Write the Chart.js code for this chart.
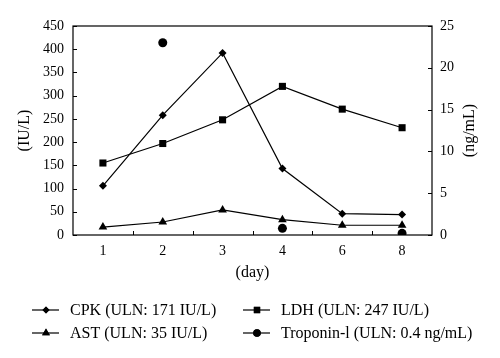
<!DOCTYPE html>
<html>
<head>
<meta charset="utf-8">
<script src="https://cdn.jsdelivr.net/npm/chart.js@4"></script>
<style>
  html, body { margin: 0; padding: 0; background: #fff; }
  #wrap { width: 500px; height: 358px; }
</style>
</head>
<body>
<div id="wrap"><canvas id="myChart"></canvas></div>
<script>
// data
var days = ['1', '2', '3', '4', '6', '8'];
var cpk = [106, 258, 392, 143, 46, 44];
var ldh = [155, 197, 248, 320, 271, 231];
var ast = [17, 28, 54, 33, 21, 21];
var troponin = [null, 23, null, 0.8, null, 0.2];
var leftTicks = [0, 50, 100, 150, 200, 250, 300, 350, 400, 450];
var rightTicks = [0, 5, 10, 15, 20, 25];

var seriesNames = ['CPK (ULN: 171 IU/L)', 'LDH (ULN: 247 IU/L)', 'AST (ULN: 35 IU/L)', 'Troponin-l (ULN: 0.4 ng/mL)'];
var seriesMarks = ['rectRot', 'rect', 'triangle', 'circle'];
var legendSize = [3.5, 4.5, 4.5, 3.8];

var serif = "'Liberation Serif', 'DejaVu Serif', serif";

// box, inside tick marks, right title and the legend
var extras = {
  id: 'extras',
  afterDraw: function(chart) {
    var c = chart.ctx, a = chart.chartArea, x = chart.scales.x;
    var y = chart.scales.y, y2 = chart.scales.y2;
    c.save();
    c.strokeStyle = '#000';
    c.lineWidth = 1.2;
    c.strokeRect(a.left, a.top, a.right - a.left, a.bottom - a.top);
    c.lineWidth = 1;
    var step = x.getPixelForValue(1) - x.getPixelForValue(0);
    for (var i = 1; i < days.length; i++) {
      var px = Math.round(x.getPixelForValue(i) - step / 2) + 0.5;
      c.beginPath(); c.moveTo(px, a.bottom); c.lineTo(px, a.bottom - 4); c.stroke();
    }
    leftTicks.forEach(function(v) {
      var py = Math.round(y.getPixelForValue(v)) + 0.5;
      c.beginPath(); c.moveTo(a.left, py); c.lineTo(a.left + 4, py); c.stroke();
    });
    rightTicks.forEach(function(v) {
      var py = Math.round(y2.getPixelForValue(v)) + 0.5;
      c.beginPath(); c.moveTo(a.right, py); c.lineTo(a.right - 4, py); c.stroke();
    });
    c.font = '16px ' + serif;
    c.fillStyle = '#000';
    c.textAlign = 'center';
    c.textBaseline = 'middle';
    c.save();
    c.translate(470, (a.top + a.bottom) / 2);
    c.rotate(-Math.PI / 2);
    c.fillText('(ng/mL)', 0, 0);
    c.restore();
    // legend
    c.textAlign = 'left';
    var cols = [32, 243], rows = [310, 333];
    for (var k = 0; k < seriesNames.length; k++) {
      var lx = cols[k % 2], ly = rows[Math.floor(k / 2)];
      c.lineWidth = 1.2;
      c.beginPath(); c.moveTo(lx, ly); c.lineTo(lx + 27, ly); c.stroke();
      Chart.helpers.drawPoint(c, { pointStyle: seriesMarks[k], radius: legendSize[k], rotation: 0, borderWidth: 0 }, lx + 14, ly);
      c.fill();
      c.fillText(seriesNames[k], lx + 38, ly + 1);
    }
    c.restore();
  }
};

function ds(label, data, style, r, axis, line) {
  return {
    label: label,
    data: data,
    yAxisID: axis,
    borderColor: '#000',
    backgroundColor: '#000',
    borderWidth: 1.2,
    pointStyle: style,
    pointRadius: r,
    pointHoverRadius: r,
    pointBorderWidth: 0,
    showLine: line,
    spanGaps: false,
    tension: 0
  };
}

var ctx = document.getElementById('myChart').getContext('2d');
var myChart = new Chart(ctx, {
  type: 'line',
  data: {
    labels: days,
    datasets: [
      ds(seriesNames[0], cpk, 'rectRot', 4, 'y', true),
      ds(seriesNames[1], ldh, 'rect', 5, 'y', true),
      ds(seriesNames[2], ast, 'triangle', 5, 'y', true),
      ds(seriesNames[3], troponin, 'circle', 4.5, 'y2', false)
    ]
  },
  options: {
    responsive: true,
    maintainAspectRatio: false,
    animation: false,
    layout: { padding: { top: 26, left: 0, right: 0, bottom: 70 } },
    plugins: { legend: { display: false }, tooltip: { enabled: false } },
    scales: {
      x: {
        offset: true,
        grid: { display: false, drawTicks: false },
        border: { display: false },
        ticks: { color: '#000', padding: 8, font: { family: serif, size: 14 } },
        title: { display: true, text: '(day)', color: '#000', font: { family: serif, size: 16 }, padding: { top: 0, bottom: 6 } },
        afterFit: function(s) { s.height = 53; }
      },
      y: {
        position: 'left',
        min: 0, max: 450,
        afterBuildTicks: function(s) { s.ticks = leftTicks.map(function(v) { return { value: v }; }); },
        grid: { display: false, drawTicks: false },
        border: { display: false },
        ticks: { color: '#000', padding: 9, font: { family: serif, size: 14 } },
        title: { display: true, text: '(IU/L)', color: '#000', font: { family: serif, size: 16 }, padding: { top: 15, bottom: 0 } },
        afterFit: function(s) { s.width = 73; }
      },
      y2: {
        position: 'right',
        min: 0, max: 25,
        afterBuildTicks: function(s) { s.ticks = rightTicks.map(function(v) { return { value: v }; }); },
        grid: { display: false, drawTicks: false },
        border: { display: false },
        ticks: { color: '#000', padding: 8, font: { family: serif, size: 14 } },
        afterFit: function(s) { s.width = 68; }
      }
    }
  },
  plugins: [extras]
});
</script>
</body>
</html>
